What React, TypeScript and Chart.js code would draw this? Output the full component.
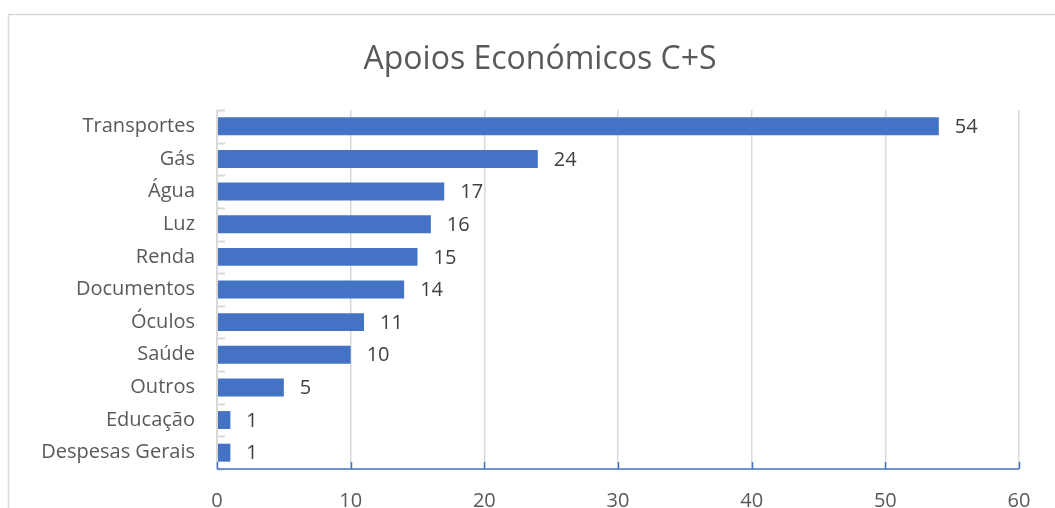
import React, { useEffect, useRef } from "react";
import { Chart, registerables } from "chart.js";

Chart.register(...registerables);

const categories = [
  "Transportes",
  "Gás",
  "Água",
  "Luz",
  "Renda",
  "Documentos",
  "Óculos",
  "Saúde",
  "Outros",
  "Educação",
  "Despesas Gerais",
];
const values = [54, 24, 17, 16, 15, 14, 11, 10, 5, 1, 1];
const xTicks = [0, 10, 20, 30, 40, 50, 60];
const titleText = "Apoios Económicos C+S";

const FONT = "'Open Sans', 'Liberation Sans', sans-serif";
const BLUE = "#4472C4";
const GRID = "#D9D9D9";

const decorPlugin = {
  id: "decor",
  beforeDraw(chart: any) {
    const ctx = chart.ctx;
    ctx.save();
    ctx.strokeStyle = GRID;
    ctx.lineWidth = 1.5;
    ctx.beginPath();
    ctx.moveTo(8.5, 600);
    ctx.lineTo(8.5, 14.5);
    ctx.lineTo(1100, 14.5);
    ctx.stroke();
    ctx.fillStyle = "#595959";
    ctx.font = `32px ${FONT}`;
    ctx.textAlign = "center";
    ctx.textBaseline = "middle";
    ctx.fillText(titleText, 540, 60);
    ctx.restore();
  },
  afterDraw(chart: any) {
    const ctx = chart.ctx;
    const a = chart.chartArea;
    const xs = chart.scales.x;
    ctx.save();
    // y axis line and category ticks
    ctx.strokeStyle = GRID;
    ctx.lineWidth = 2;
    ctx.beginPath();
    ctx.moveTo(a.left, a.top);
    ctx.lineTo(a.left, a.bottom);
    const n = categories.length;
    const step = (a.bottom - a.top) / n;
    for (let i = 0; i <= n; i++) {
      const y = Math.round(a.top + i * step) + 0.5;
      ctx.moveTo(a.left, y);
      ctx.lineTo(a.left + 8, y);
    }
    ctx.stroke();
    // x axis line with upward ticks
    ctx.strokeStyle = BLUE;
    ctx.lineWidth = 1.5;
    ctx.beginPath();
    ctx.moveTo(a.left, a.bottom);
    ctx.lineTo(a.right, a.bottom);
    xTicks.forEach((t) => {
      const x = Math.round(xs.getPixelForValue(t)) + 0.5;
      ctx.moveTo(x, a.bottom);
      ctx.lineTo(x, a.bottom - 7);
    });
    ctx.stroke();
    // data labels
    ctx.fillStyle = "#404040";
    ctx.font = `20px ${FONT}`;
    ctx.textAlign = "left";
    ctx.textBaseline = "middle";
    const meta = chart.getDatasetMeta(0);
    meta.data.forEach((bar: any, i: number) => {
      ctx.fillText(String(values[i]), bar.x + 16, bar.y + 1);
    });
    ctx.restore();
  },
};

export default function App() {
  const ref = useRef<HTMLCanvasElement>(null);
  useEffect(() => {
    if (!ref.current) return;
    const chart = new Chart(ref.current, {
      type: "bar",
      data: {
        labels: categories,
        datasets: [
          {
            data: values,
            backgroundColor: BLUE,
            borderWidth: 0,
            barPercentage: 0.55,
            categoryPercentage: 1,
          },
        ],
      },
      options: {
        indexAxis: "y",
        animation: false,
        responsive: false,
        maintainAspectRatio: false,
        layout: { padding: { top: 110, right: 36, left: 0, bottom: 0 } },
        plugins: {
          legend: { display: false },
          title: { display: false },
          tooltip: { enabled: false },
        },
        scales: {
          x: {
            min: 0,
            max: 60,
            afterBuildTicks: (s: any) => {
              s.ticks = xTicks.map((v) => ({ value: v }));
            },
            afterFit: (s: any) => {
              s.height = 39;
            },
            grid: { color: GRID, lineWidth: 1.5, drawTicks: false },
            border: { display: false },
            ticks: {
              padding: 20,
              color: "#595959",
              font: { family: FONT, size: 20 },
            },
          },
          y: {
            afterFit: (s: any) => {
              s.width = 217;
            },
            grid: { display: false, drawTicks: false },
            border: { display: false },
            ticks: {
              padding: 22,
              color: "#595959",
              font: { family: FONT, size: 20 },
            },
          },
        },
      },
      plugins: [decorPlugin],
    });
    return () => chart.destroy();
  }, []);
  return (
    <div style={{ position: "absolute", left: 0, top: 0, width: 1055, height: 508, background: "#fff" }}>
      <canvas ref={ref} width={1055} height={508} style={{ display: "block" }} />
    </div>
  );
}
